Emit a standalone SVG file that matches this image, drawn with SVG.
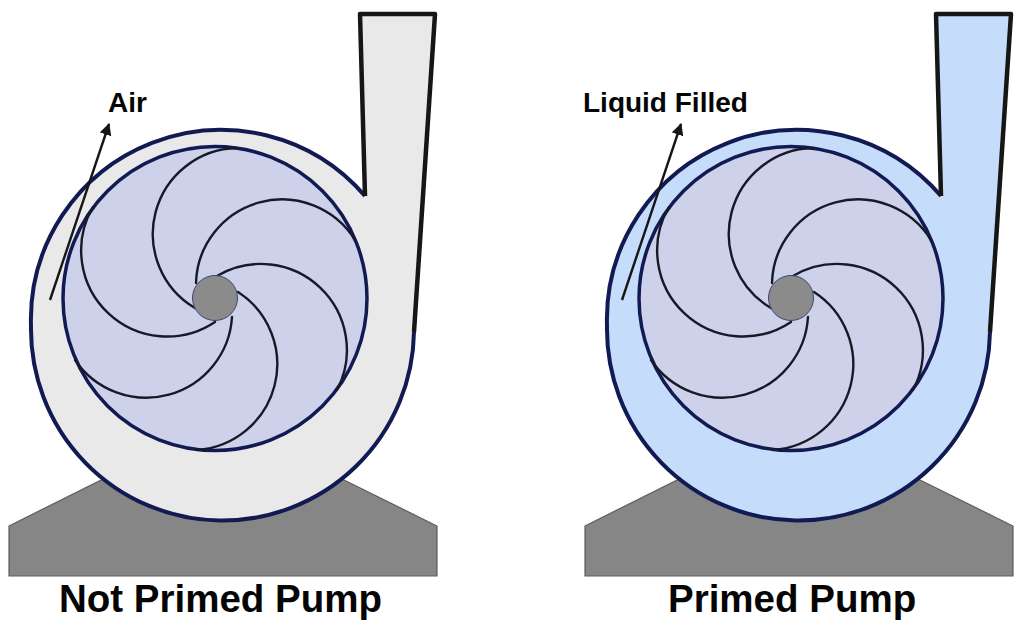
<svg xmlns="http://www.w3.org/2000/svg" width="1024" height="628" viewBox="0 0 1024 628">
<style>
.base{fill:#868686;stroke:#5c5c5c;stroke-width:1.2}
.casing{stroke:none}
.vol{fill:none;stroke:#111a52;stroke-width:4}
.duct{fill:none;stroke:#161616;stroke-width:4.5;stroke-linejoin:round}
.imp{fill:#cdd2ea;stroke:#111a52;stroke-width:3.5}
.blade{fill:none;stroke:#161a28;stroke-width:2.4;stroke-linecap:round}
.hub{fill:#8b8b8b;stroke:#3d4470;stroke-width:1}
.arrow{fill:none;stroke:#161616;stroke-width:2.4}
text{font-family:"Liberation Sans",Arial,sans-serif;font-weight:700;fill:#050505}
.lbl{font-size:28px}
.title{font-size:38.5px}
</style>
<defs>
<marker id="ah" markerUnits="userSpaceOnUse" markerWidth="14" markerHeight="14" refX="11" refY="6" orient="auto"><path d="M0 0L12 6L0 12Z" fill="#161616"/></marker>
<path id="shell" d="M360 14L435 14L414 332A191 191 0 0 1 31 326A190 190 0 0 1 365 196Z"/>
<g id="impeller">
<circle class="imp" cx="215" cy="298.500" r="152"/>
<path class="blade" d="M237 148A86 86 0 0 0 195 308"/>
<path class="blade" d="M355 240A86 86 0 0 0 196 283"/>
<path class="blade" d="M217 276A86 86 0 0 1 337 390"/>
<path class="blade" d="M238 292A86 86 0 0 1 197 450"/>
<path class="blade" d="M232 317A86 86 0 0 1 75 360"/>
<path class="blade" d="M215 322A86 86 0 0 1 93 207"/>
<circle class="hub" cx="215" cy="298" r="22.500"/>
</g>
</defs>
<g id="base-left"><path class="base" d="M9 526L105 478H340L437 526V576H9Z"/></g>
<g id="pump-left">
<use href="#shell" fill="#e9e9e9"/>
<path class="vol" d="M414 332A191 191 0 0 1 31 326A190 190 0 0 1 365 196"/>
<path class="duct" d="M365 196L360 14H435L414 332"/>
<use href="#impeller"/>
</g>
<g id="base-right"><path class="base" d="M585 526L681 478H916L1013 526V576H585Z"/></g>
<g id="pump-right" transform="translate(576 0)">
<use href="#shell" fill="#c5dcfb"/>
<path class="vol" d="M414 332A191 191 0 0 1 31 326A190 190 0 0 1 365 196"/>
<path class="duct" d="M365 196L360 14H435L414 332"/>
<use href="#impeller"/>
</g>
<g id="connectors">
<path class="arrow" d="M50 300L109 124" marker-end="url(#ah)"/>
<path class="arrow" d="M622 300L681 124" marker-end="url(#ah)"/>
</g>
<g id="label-air"><text class="lbl" x="108" y="112">Air</text></g>
<g id="label-liquid"><text class="lbl" x="583" y="112">Liquid Filled</text></g>
<g id="title-left"><text class="title" x="59" y="612">Not Primed Pump</text></g>
<g id="title-right"><text class="title" x="668" y="612">Primed Pump</text></g>
</svg>
